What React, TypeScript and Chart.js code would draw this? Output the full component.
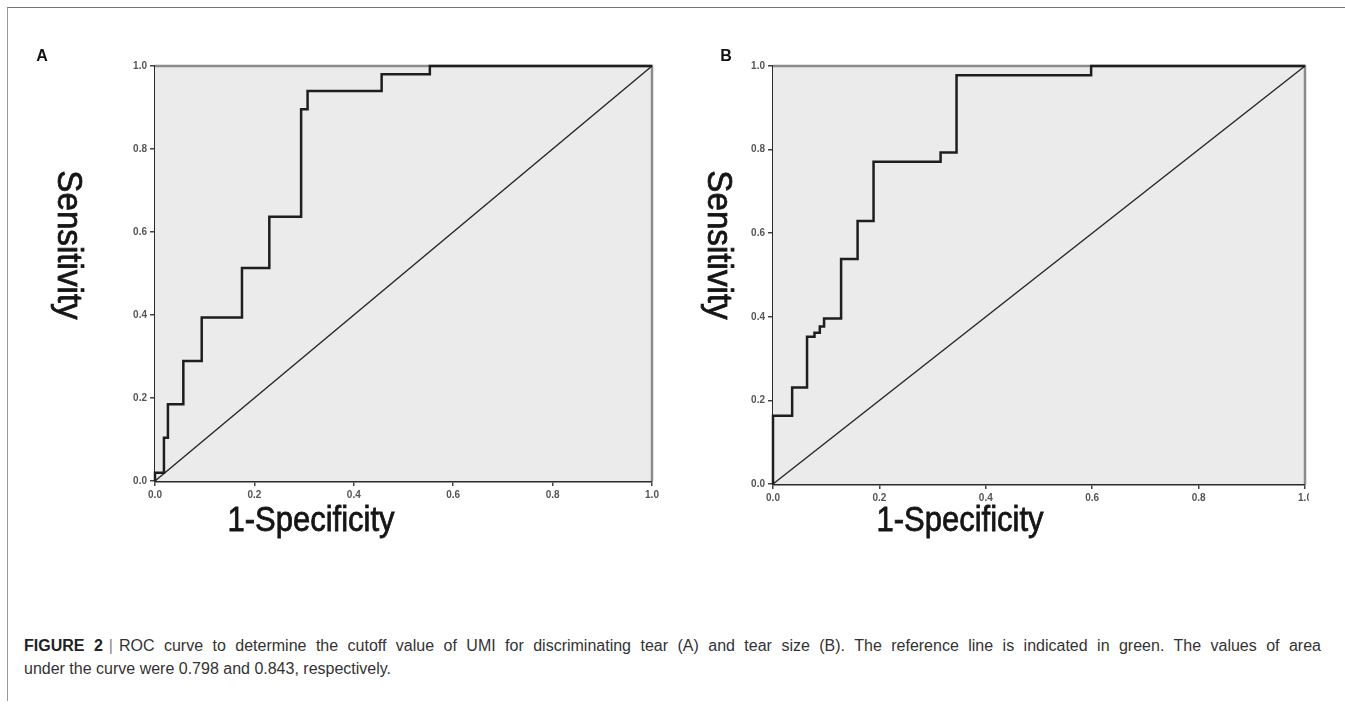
import React, { useEffect, useRef } from "react";
import { Chart, registerables } from "chart.js";

Chart.register(...registerables);

// Panel A: ROC for discriminating tear
const fprA = [0, 0, 0.018, 0.026, 0.057, 0.094, 0.175, 0.23, 0.294, 0.307, 0.456, 0.553, 1.0];
const tprA = [0, 0.02, 0.104, 0.185, 0.289, 0.394, 0.513, 0.637, 0.896, 0.94, 0.98, 1.0, 1.0];

// Panel B: ROC for tear size
const fprB = [0, 0, 0.036, 0.064, 0.078, 0.088, 0.096, 0.128, 0.159, 0.189, 0.315, 0.345, 0.598, 1.0];
const tprB = [0, 0.163, 0.231, 0.352, 0.362, 0.377, 0.396, 0.538, 0.629, 0.771, 0.793, 0.978, 1.0, 1.0];

// Reference (diagonal) line
const refX = [0, 1];
const refY = [0, 1];

const tickValues = [0, 0.2, 0.4, 0.6, 0.8, 1.0];
const tickLabels = ["0.0", "0.2", "0.4", "0.6", "0.8", "1.0"];

const xTitle = "1-Specificity";
const yTitle = "Sensitivity";
const captionLine1Bold = "FIGURE 2";
const captionLine1 =
  "ROC curve to determine the cutoff value of UMI for discriminating tear (A) and tear size (B). The reference line is indicated in green. The values of area";
const captionLine2 = "under the curve were 0.798 and 0.843, respectively.";

type PanelProps = {
  fpr: number[];
  tpr: number[];
  label: string;
  left: number;
  width: number;
  visibleWidth: number;
  height: number;
  areaLeft: number;
  areaRight: number;
  areaTop: number;
  areaBottom: number;
  labelX: number;
  xTitleX: number;
  yTitleX: number;
};

const FONT = "'Liberation Sans', Arial, Helvetica, sans-serif";

function drawTitle(ctx: CanvasRenderingContext2D, text: string) {
  ctx.fillText(text, 0, 0);
  ctx.lineWidth = 0.7;
  ctx.strokeStyle = "#151515";
  ctx.strokeText(text, 0, 0);
}

function RocPanel(p: PanelProps) {
  const ref = useRef<HTMLCanvasElement | null>(null);
  useEffect(() => {
    if (!ref.current) return;
    const decor = {
      id: "decor",
      beforeDatasetsDraw(chart: any) {
        const { ctx, chartArea: a } = chart;
        ctx.save();
        ctx.fillStyle = "#ebebeb";
        ctx.fillRect(a.left, a.top, a.right - a.left, a.bottom - a.top);
        ctx.strokeStyle = "#8c8c8c";
        ctx.lineWidth = 2.5;
        ctx.beginPath();
        ctx.moveTo(a.left, a.top);
        ctx.lineTo(a.right, a.top);
        ctx.lineTo(a.right, a.bottom);
        ctx.stroke();
        ctx.restore();
      },
      afterDraw(chart: any) {
        const { ctx } = chart;
        ctx.save();
        ctx.fillStyle = "#111";
        ctx.textAlign = "center";
        ctx.textBaseline = "middle";
        ctx.font = `bold 16px ${FONT}`;
        ctx.fillText(p.label, p.labelX, 57);
        ctx.restore();

        ctx.save();
        ctx.font = `31px ${FONT}`;
        ctx.fillStyle = "#151515";
        ctx.textAlign = "center";
        ctx.textBaseline = "middle";
        ctx.translate(p.xTitleX, 521);
        ctx.scale(1, 1.13);
        drawTitle(ctx, xTitle);
        ctx.restore();

        ctx.save();
        ctx.font = `31px ${FONT}`;
        ctx.fillStyle = "#151515";
        ctx.textAlign = "center";
        ctx.textBaseline = "middle";
        ctx.translate(p.yTitleX, 245);
        ctx.rotate(Math.PI / 2);
        ctx.scale(1.07, 1.13);
        drawTitle(ctx, yTitle);
        ctx.restore();
      },
    };
    const axisCommon = {
      type: "linear" as const,
      min: 0,
      max: 1,
      afterBuildTicks(scale: any) {
        scale.ticks = tickValues.map((v) => ({ value: v }));
      },
      ticks: {
        callback: (v: any) => tickLabels[tickValues.indexOf(Number(v))] ?? "",
        font: { size: 10, family: FONT, weight: "bold" as const },
        color: "#555",
        padding: 3,
        autoSkip: false,
        maxRotation: 0,
      },
      grid: {
        display: true,
        drawOnChartArea: false,
        drawTicks: true,
        tickLength: 5,
        color: "#444",
        lineWidth: 1.5,
      },
      border: { display: true, color: "#2a2a2a", width: 2.5 },
    };
    const chart = new Chart(ref.current, {
      type: "line",
      data: {
        datasets: [
          {
            data: p.fpr.map((x, i) => ({ x, y: p.tpr[i] })),
            stepped: "before",
            borderColor: "#1e1e1e",
            borderWidth: 2.5,
            pointRadius: 0,
            fill: false,
            clip: 4,
          } as any,
          {
            data: refX.map((x, i) => ({ x, y: refY[i] })),
            borderColor: "#2a2a2a",
            borderWidth: 1.5,
            pointRadius: 0,
            fill: false,
            clip: 4,
          } as any,
        ],
      },
      options: {
        animation: false,
        responsive: false,
        maintainAspectRatio: false,
        events: [],
        layout: {
          padding: { left: 0, top: p.areaTop, right: p.width - p.areaRight, bottom: 0 },
        },
        plugins: { legend: { display: false }, tooltip: { enabled: false }, title: { display: false } },
        scales: {
          x: {
            ...axisCommon,
            afterFit(scale: any) {
              scale.height = p.height - p.areaBottom;
            },
          },
          y: {
            ...axisCommon,
            afterFit(scale: any) {
              scale.width = p.areaLeft;
            },
          },
        } as any,
      },
      plugins: [decor],
    });
    return () => chart.destroy();
  }, []);
  return (
    <div
      style={{
        position: "absolute",
        left: p.left,
        top: 0,
        width: p.visibleWidth,
        height: p.height,
        overflow: "hidden",
      }}
    >
      <canvas
        ref={ref}
        width={p.width}
        height={p.height}
        style={{ position: "absolute", left: 0, top: 0, width: p.width, height: p.height }}
      />
    </div>
  );
}

export default function App() {
  useEffect(() => {
    document.body.style.margin = "0";
  }, []);
  return (
    <div style={{ position: "relative", width: 1345, height: 714, overflow: "hidden", background: "#fff" }}>
      <div
        style={{
          position: "absolute",
          left: 7,
          top: 7,
          width: 1345,
          height: 693,
          borderTop: "1.5px solid #777",
          borderLeft: "1.5px solid #9a9a9a",
        }}
      />
      <RocPanel
        fpr={fprA}
        tpr={tprA}
        label="A"
        left={0}
        width={680}
        visibleWidth={680}
        height={600}
        areaLeft={155}
        areaRight={652}
        areaTop={66}
        areaBottom={481}
        labelX={42}
        xTitleX={311}
        yTitleX={68}
      />
      <RocPanel
        fpr={fprB}
        tpr={tprB}
        label="B"
        left={680}
        width={665}
        visibleWidth={629}
        height={600}
        areaLeft={93}
        areaRight={625}
        areaTop={66}
        areaBottom={484}
        labelX={46}
        xTitleX={280}
        yTitleX={38}
      />
      <div
        style={{
          position: "absolute",
          left: 24,
          top: 634,
          width: 1297,
          fontFamily: FONT,
          fontSize: 16,
          lineHeight: "23px",
          color: "#333",
        }}
      >
        <div style={{ textAlign: "justify", textAlignLast: "justify", whiteSpace: "nowrap" }}>
          <b style={{ color: "#222" }}>{captionLine1Bold}</b>
          <span style={{ color: "#888", margin: "0 6px" }}>|</span>
          {captionLine1}
        </div>
        <div>{captionLine2}</div>
      </div>
    </div>
  );
}
